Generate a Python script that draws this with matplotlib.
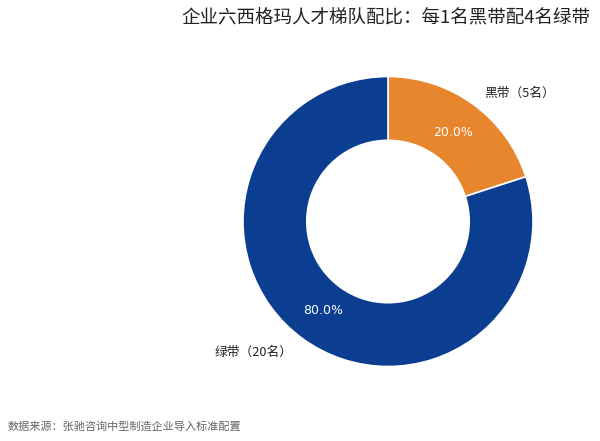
import matplotlib
matplotlib.use("Agg")
import matplotlib.pyplot as plt
import numpy as np

plt.rcParams['font.family'] = ['Noto Sans CJK SC', 'DejaVu Sans']

categories = ['黑带', '绿带']
counts = [5, 20]
label_texts = ['黑带（5名）', '绿带（20名）']
colors = ['#E8862E', '#0B3D91']
title = '企业六西格玛人才梯队配比：每1名黑带配4名绿带'
source = '数据来源：张驰咨询中型制造企业导入标准配置'

fig = plt.figure(figsize=(6, 4.41), dpi=100)
W, H = 600, 441
cx, cy, R = 388, 221.5, 145
half = 1.25
size = 2 * half * R
ax = fig.add_axes([(cx - size / 2) / W, (H - cy - size / 2) / H, size / W, size / H])

wedges, texts = ax.pie(counts, colors=colors, startangle=90, counterclock=False,
                       radius=1, wedgeprops=dict(width=0.44, edgecolor='white', linewidth=1.2))
total = sum(counts)
for w, c in zip(wedges, counts):
    ang = np.deg2rad((w.theta1 + w.theta2) / 2)
    r = 0.76
    ax.text(r * np.cos(ang), r * np.sin(ang), f'{c / total * 100:.1f}%',
            ha='center', va='center', color='white', fontsize=9, family=['DejaVu Sans'])

# outside labels
ax.text(0.905, 0.886, label_texts[0], ha='center', va='center', fontsize=9.2, color='#222222')
ax.text(-0.924, -0.90, label_texts[1], ha='center', va='center', fontsize=9.2, color='#222222')

ax.set_xlim(-half, half)
ax.set_ylim(-half, half)
ax.set_aspect('equal')
ax.axis('off')

fig.text(590 / W, 1 - 18 / H, title, ha='right', va='center', fontsize=13.3, color='#222222')
fig.text(8 / W, 1 - 426 / H, source, ha='left', va='center', fontsize=8, color='#666666')

fig.savefig('out.png', dpi=100)
